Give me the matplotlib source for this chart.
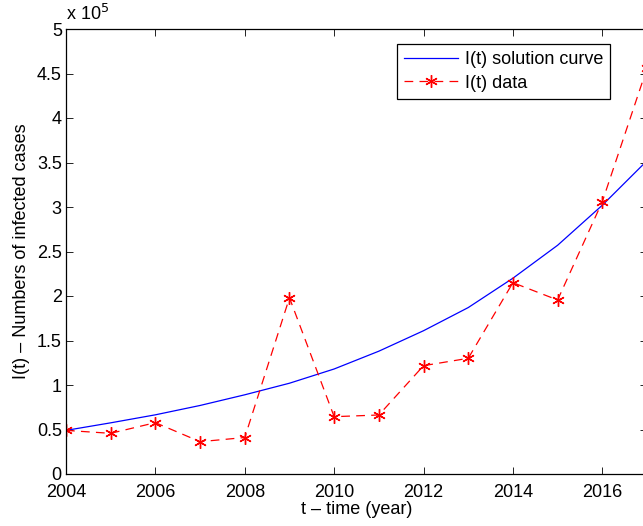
import numpy as np
import matplotlib
matplotlib.use("Agg")
import matplotlib.pyplot as plt

# values, in units of 1e5 cases
years = [2004, 2005, 2006, 2007, 2008, 2009, 2010, 2011, 2012, 2013, 2014, 2015, 2016, 2017]
curve = [0.49, 0.575, 0.665, 0.77, 0.89, 1.02, 1.18, 1.38, 1.61, 1.87, 2.20, 2.57, 3.02, 3.52]
data = [0.49, 0.457, 0.577, 0.363, 0.41, 1.98, 0.644, 0.663, 1.217, 1.30, 2.15, 1.955, 3.06, 4.56]
xticks = [2004, 2006, 2008, 2010, 2012, 2014, 2016]
yticks = [0, 0.5, 1, 1.5, 2, 2.5, 3, 3.5, 4, 4.5, 5]

plt.rcParams['font.family'] = ['Liberation Sans', 'DejaVu Sans']
plt.rcParams['font.size'] = 13

fig = plt.figure(figsize=(6.43, 5.26), dpi=100)
# axes run a bit past the right edge, like the cropped original
ax = fig.add_axes([66/643, 52/526, 581/643, 445/526])

ax.plot(years, curve, color='blue', lw=0.9, label='I(t) solution curve')
ax.plot(years, data, color='red', lw=0.9, ls=(0, (7, 5)), marker=(6, 2, 0),
        markersize=9, markeredgewidth=1.0, label='I(t) data')

ax.set_xlim(2004, 2017)
ax.set_ylim(0, 5)
ax.set_xticks(xticks)
ax.set_yticks(yticks)
ax.set_yticklabels(['%g' % v for v in yticks])
ax.tick_params(direction='in', top=True, right=True, length=5, width=0.6,
               labelsize=13)
ax.tick_params(axis='x', pad=7)
ax.tick_params(axis='y', pad=3)
for s in ax.spines.values():
    s.set_linewidth(0.9)

ax.set_xlabel('t – time (year)', fontsize=13, labelpad=0)
ax.set_ylabel('I(t) – Numbers of infected cases', fontsize=13, labelpad=5)
ax.text(0.0, 1.012, 'x 10$^5$', transform=ax.transAxes, fontsize=13,
        ha='left', va='bottom')

leg = ax.legend(loc='upper left', bbox_to_anchor=((397-66)/581, (474-44)/445),
                fontsize=13, fancybox=False, framealpha=1, edgecolor='black',
                handlelength=3.0, borderpad=0.4, labelspacing=0.35,
                handletextpad=0.35, borderaxespad=0)
leg.get_frame().set_linewidth(0.9)

fig.savefig('out.png', dpi=100)
